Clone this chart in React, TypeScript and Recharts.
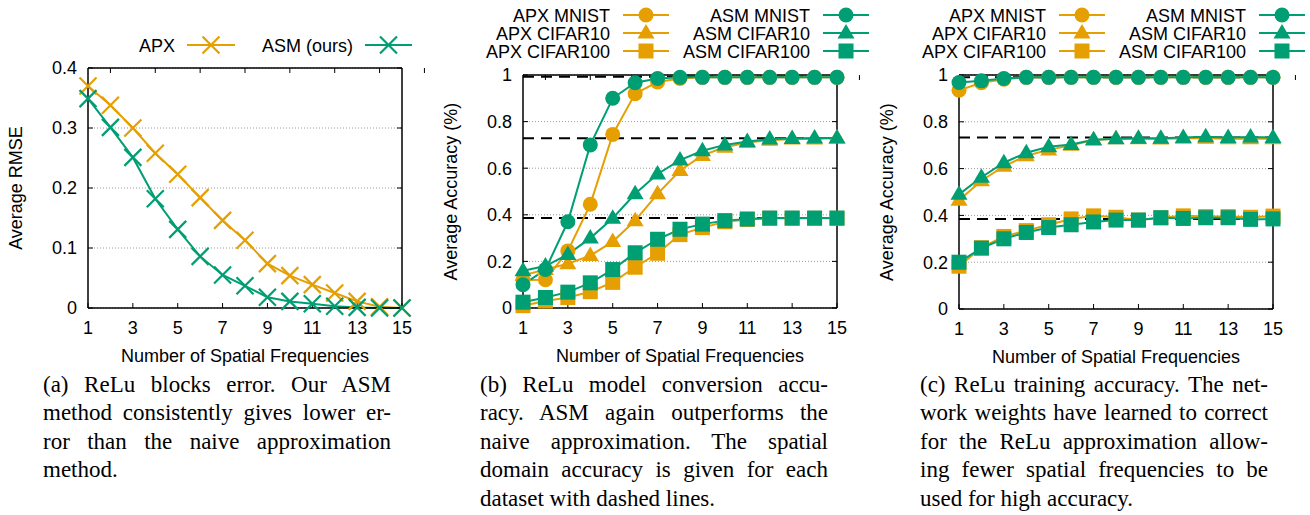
import React from "react";
import {
  CartesianGrid,
  Legend,
  Line,
  LineChart,
  ReferenceLine,
  XAxis,
  YAxis,
} from "recharts";

const ORANGE = "#e69f00";
const GREEN = "#009e73";
const SANS = '"Liberation Sans", Arial, Helvetica, sans-serif';
const SERIF = '"Liberation Serif", "Times New Roman", serif';

// x categories: number of spatial frequencies
const freqs = [1, 2, 3, 4, 5, 6, 7, 8, 9, 10, 11, 12, 13, 14, 15];
const freqTicks = [1, 3, 5, 7, 9, 11, 13, 15];

// (a) ReLu block error
const rmseTicks = [0, 0.1, 0.2, 0.3, 0.4];
const rmseApx = [0.37, 0.338, 0.3, 0.258, 0.223, 0.184, 0.146, 0.113, 0.074, 0.054, 0.039, 0.025, 0.011, 0.002, 0];
const rmseAsm = [0.349, 0.301, 0.251, 0.182, 0.131, 0.086, 0.055, 0.037, 0.018, 0.011, 0.007, 0.003, 0.001, 0, 0];

// (b) model conversion accuracy
const accTicks = [0, 0.2, 0.4, 0.6, 0.8, 1];
const convApxMnist = [0.12, 0.121, 0.245, 0.445, 0.745, 0.92, 0.97, 0.985, 0.99, 0.99, 0.99, 0.99, 0.99, 0.99, 0.99];
const convApxC10 = [0.14, 0.165, 0.19, 0.225, 0.285, 0.375, 0.49, 0.59, 0.655, 0.69, 0.71, 0.72, 0.725, 0.725, 0.73];
const convApxC100 = [0.01, 0.03, 0.045, 0.07, 0.11, 0.175, 0.235, 0.315, 0.345, 0.37, 0.38, 0.385, 0.385, 0.385, 0.385];
const convAsmMnist = [0.1, 0.165, 0.37, 0.7, 0.9, 0.967, 0.985, 0.99, 0.99, 0.99, 0.99, 0.99, 0.99, 0.99, 0.99];
const convAsmC10 = [0.16, 0.18, 0.23, 0.3, 0.385, 0.49, 0.575, 0.635, 0.675, 0.7, 0.715, 0.725, 0.728, 0.73, 0.73];
const convAsmC100 = [0.025, 0.045, 0.068, 0.108, 0.165, 0.237, 0.295, 0.338, 0.36, 0.375, 0.382, 0.386, 0.386, 0.386, 0.386];
const convSpatial = [0.992, 0.729, 0.386];

// (c) training accuracy
const trainApxMnist = [0.935, 0.967, 0.982, 0.99, 0.99, 0.99, 0.99, 0.99, 0.99, 0.99, 0.99, 0.99, 0.99, 0.99, 0.99];
const trainApxC10 = [0.465, 0.548, 0.61, 0.655, 0.68, 0.7, 0.722, 0.728, 0.728, 0.726, 0.73, 0.73, 0.728, 0.728, 0.728];
const trainApxC100 = [0.183, 0.262, 0.31, 0.335, 0.36, 0.385, 0.398, 0.392, 0.38, 0.39, 0.398, 0.395, 0.395, 0.392, 0.397];
const trainAsmMnist = [0.968, 0.975, 0.985, 0.99, 0.99, 0.99, 0.99, 0.99, 0.99, 0.99, 0.99, 0.99, 0.99, 0.99, 0.99];
const trainAsmC10 = [0.49, 0.563, 0.625, 0.668, 0.693, 0.703, 0.723, 0.728, 0.73, 0.73, 0.733, 0.736, 0.733, 0.735, 0.733];
const trainAsmC100 = [0.2, 0.26, 0.3, 0.327, 0.348, 0.36, 0.372, 0.38, 0.38, 0.39, 0.387, 0.39, 0.39, 0.383, 0.385];
const trainSpatial = [0.99, 0.733, 0.385];

const captionA = [
  "(a) ReLu blocks error.  Our ASM",
  "method consistently gives lower er-",
  "ror than the naive approximation",
  "method.",
];
const captionB = [
  "(b) ReLu model conversion accu-",
  "racy.  ASM again outperforms the",
  "naive approximation.  The spatial",
  "domain accuracy is given for each",
  "dataset with dashed lines.",
];
const captionC = [
  "(c) ReLu training accuracy. The net-",
  "work weights have learned to correct",
  "for the ReLu approximation allow-",
  "ing fewer spatial frequencies to be",
  "used for high accuracy.",
];

type Shape = "cross" | "circle" | "triangle" | "square";

type SeriesDef = {
  key: string;
  name: string;
  color: string;
  shape: Shape;
  values: number[];
};

type KeySlot = {
  key: string;
  textRight: number;
  sampleStart: number;
  sampleEnd: number;
  y: number;
};

function Marker({ shape, cx, cy, color }: { shape: Shape; cx: number; cy: number; color: string }) {
  if (shape === "cross") {
    const s = 8.5;
    return (
      <path
        d={`M${cx - s},${cy - s}L${cx + s},${cy + s}M${cx - s},${cy + s}L${cx + s},${cy - s}`}
        stroke={color}
        strokeWidth={2.2}
        fill="none"
      />
    );
  }
  if (shape === "circle") {
    return <circle cx={cx} cy={cy} r={7.5} fill={color} />;
  }
  if (shape === "triangle") {
    return (
      <path
        d={`M${cx},${cy - 9}L${cx + 8.5},${cy + 5.5}L${cx - 8.5},${cy + 5.5}Z`}
        fill={color}
      />
    );
  }
  return <rect x={cx - 7.5} y={cy - 7.5} width={15} height={15} fill={color} />;
}

const EmptyTick = () => <g />;

function XTitle({ viewBox }: any) {
  if (!viewBox) return null;
  return (
    <text
      x={viewBox.x + viewBox.width / 2}
      y={viewBox.y + 53.5}
      textAnchor="middle"
      fontSize={18}
      fontFamily={SANS}
      fill="#000"
    >
      Number of Spatial Frequencies
    </text>
  );
}

function YTitle({ viewBox, text }: any) {
  if (!viewBox) return null;
  const cx = viewBox.x + 22;
  const cy = viewBox.y + viewBox.height / 2;
  return (
    <text
      x={cx}
      y={cy}
      transform={`rotate(-90 ${cx} ${cy})`}
      textAnchor="middle"
      fontSize={18}
      fontFamily={SANS}
      fill="#000"
    >
      {text}
    </text>
  );
}

function KeyBox({ series, slots }: { series: SeriesDef[]; slots: KeySlot[] }) {
  return (
    <svg width={435} height={62} style={{ display: "block", overflow: "visible" }}>
      {slots.map((slot) => {
        const s = series.find((item) => item.key === slot.key);
        if (!s) return null;
        const mid = (slot.sampleStart + slot.sampleEnd) / 2;
        return (
          <g key={slot.key}>
            <text
              x={slot.textRight}
              y={slot.y + 6.5}
              textAnchor="end"
              fontSize={18}
              fontFamily={SANS}
              fill="#000"
            >
              {s.name}
            </text>
            <line
              x1={slot.sampleStart}
              x2={slot.sampleEnd}
              y1={slot.y}
              y2={slot.y}
              stroke={s.color}
              strokeWidth={2}
            />
            <Marker shape={s.shape} cx={mid} cy={slot.y} color={s.color} />
          </g>
        );
      })}
    </svg>
  );
}

type PanelProps = {
  left: number;
  series: SeriesDef[];
  slots: KeySlot[];
  yTicks: number[];
  yMax: number;
  yLabel: string;
  plotTop: number;
  plotBottom: number;
  spatial?: number[];
};

const CHART_W = 435;
const CHART_H = 370;

function Panel({ left, series, slots, yTicks, yMax, yLabel, plotTop, plotBottom, spatial }: PanelProps) {
  const rows = freqs.map((f, i) => {
    const row: Record<string, number> = { f };
    series.forEach((s) => {
      row[s.key] = s.values[i];
    });
    return row;
  });

  const tickStyle = { fill: "#000", fontSize: 18, fontFamily: SANS };
  const frame = { stroke: "#000", strokeWidth: 1.5 };
  const tickMark = { stroke: "#000", strokeWidth: 1 };

  return (
    <div style={{ position: "absolute", left, top: 0, width: CHART_W, height: CHART_H }}>
      <LineChart
        width={CHART_W}
        height={CHART_H}
        data={rows}
        margin={{ top: 0, right: 0, bottom: 0, left: 0 }}
      >
        <CartesianGrid
          vertical={false}
          stroke="#9a9a9a"
          strokeDasharray="1 2"
          strokeWidth={1}
        />
        <XAxis
          dataKey="f"
          type="number"
          domain={[1, 15]}
          ticks={freqTicks}
          height={CHART_H - plotBottom}
          tick={tickStyle}
          tickSize={-5}
          tickMargin={18}
          tickLine={tickMark}
          axisLine={frame}
          interval={0}
          label={<XTitle />}
        />
        <XAxis
          xAxisId="top"
          orientation="top"
          type="number"
          domain={[1, 15]}
          allowDataOverflow
          ticks={freqTicks}
          height={plotTop}
          tick={EmptyTick}
          tickSize={-5}
          tickLine={tickMark}
          axisLine={frame}
          interval={0}
        />
        <YAxis
          type="number"
          domain={[0, yMax]}
          ticks={yTicks}
          width={88}
          tick={tickStyle}
          tickSize={-5}
          tickMargin={16}
          tickLine={tickMark}
          axisLine={frame}
          interval={0}
          tickFormatter={(v: number) => String(v)}
          label={<YTitle text={yLabel} />}
        />
        <YAxis
          yAxisId="right"
          orientation="right"
          type="number"
          domain={[0, yMax]}
          allowDataOverflow
          ticks={yTicks}
          width={CHART_W - 88 - 314}
          tick={EmptyTick}
          tickSize={-5}
          tickLine={tickMark}
          axisLine={frame}
          interval={0}
        />
        {(spatial || []).map((v, i) => (
          <ReferenceLine
            key={`spatial-${i}`}
            y={v}
            stroke="#000"
            strokeWidth={2}
            strokeDasharray="11 7"
          />
        ))}
        <Legend
          layout="horizontal"
          verticalAlign="middle"
          align="center"
          wrapperStyle={{ position: "absolute", left: 0, top: 0, width: CHART_W, height: 62 }}
          content={() => <KeyBox series={series} slots={slots} />}
        />
        {series.map((s) => (
          <Line
            key={s.key}
            name={s.name}
            dataKey={s.key}
            type="linear"
            stroke={s.color}
            strokeWidth={2}
            isAnimationActive={false}
            activeDot={false}
            dot={(p: any) => {
              if (p.cx == null || p.cy == null) return <g key={`${s.key}-${p.index}`} />;
              return (
                <Marker
                  key={`${s.key}-${p.index}`}
                  shape={s.shape}
                  cx={p.cx}
                  cy={p.cy}
                  color={s.color}
                />
              );
            }}
          />
        ))}
      </LineChart>
    </div>
  );
}

function Caption({ left, lines }: { left: number; lines: string[] }) {
  return (
    <div
      style={{
        position: "absolute",
        left,
        top: 371,
        width: 348,
        fontFamily: SERIF,
        fontSize: 23,
        lineHeight: "28.4px",
        color: "#000",
      }}
    >
      {lines.map((line, i) => {
        const last = i === lines.length - 1;
        return (
          <div
            key={i}
            style={{
              textAlign: last ? "left" : "justify",
              textAlignLast: last ? "left" : "justify",
              whiteSpace: "normal",
            }}
          >
            {line}
          </div>
        );
      })}
    </div>
  );
}

const rmseSeries: SeriesDef[] = [
  { key: "apx", name: "APX", color: ORANGE, shape: "cross", values: rmseApx },
  { key: "asm", name: "ASM (ours)", color: GREEN, shape: "cross", values: rmseAsm },
];
const rmseSlots: KeySlot[] = [
  { key: "apx", textRight: 175, sampleStart: 187, sampleEnd: 235, y: 45 },
  { key: "asm", textRight: 353, sampleStart: 365, sampleEnd: 412, y: 45 },
];

const convSeries: SeriesDef[] = [
  { key: "apxMnist", name: "APX MNIST", color: ORANGE, shape: "circle", values: convApxMnist },
  { key: "apxC10", name: "APX CIFAR10", color: ORANGE, shape: "triangle", values: convApxC10 },
  { key: "apxC100", name: "APX CIFAR100", color: ORANGE, shape: "square", values: convApxC100 },
  { key: "asmMnist", name: "ASM MNIST", color: GREEN, shape: "circle", values: convAsmMnist },
  { key: "asmC10", name: "ASM CIFAR10", color: GREEN, shape: "triangle", values: convAsmC10 },
  { key: "asmC100", name: "ASM CIFAR100", color: GREEN, shape: "square", values: convAsmC100 },
];

const trainSeries: SeriesDef[] = [
  { key: "apxMnist", name: "APX MNIST", color: ORANGE, shape: "circle", values: trainApxMnist },
  { key: "apxC10", name: "APX CIFAR10", color: ORANGE, shape: "triangle", values: trainApxC10 },
  { key: "apxC100", name: "APX CIFAR100", color: ORANGE, shape: "square", values: trainApxC100 },
  { key: "asmMnist", name: "ASM MNIST", color: GREEN, shape: "circle", values: trainAsmMnist },
  { key: "asmC10", name: "ASM CIFAR10", color: GREEN, shape: "triangle", values: trainAsmC10 },
  { key: "asmC100", name: "ASM CIFAR100", color: GREEN, shape: "square", values: trainAsmC100 },
];

const accSlots: KeySlot[] = [
  { key: "apxMnist", textRight: 175, sampleStart: 188, sampleEnd: 234, y: 15 },
  { key: "apxC10", textRight: 175, sampleStart: 188, sampleEnd: 234, y: 33 },
  { key: "apxC100", textRight: 175, sampleStart: 188, sampleEnd: 234, y: 51 },
  { key: "asmMnist", textRight: 375, sampleStart: 388, sampleEnd: 434, y: 15 },
  { key: "asmC10", textRight: 375, sampleStart: 388, sampleEnd: 434, y: 33 },
  { key: "asmC100", textRight: 375, sampleStart: 388, sampleEnd: 434, y: 51 },
];

export default function App() {
  return (
    <div
      style={{
        position: "absolute",
        left: 0,
        top: 0,
        width: 1310,
        height: 515,
        background: "#fff",
        overflow: "hidden",
      }}
    >
      <Panel
        left={0}
        series={rmseSeries}
        slots={rmseSlots}
        yTicks={rmseTicks}
        yMax={0.4}
        yLabel="Average RMSE"
        plotTop={68}
        plotBottom={308}
      />
      <Panel
        left={435}
        series={convSeries}
        slots={accSlots}
        yTicks={accTicks}
        yMax={1}
        yLabel="Average Accuracy (%)"
        plotTop={75}
        plotBottom={308}
        spatial={convSpatial}
      />
      <Panel
        left={871}
        series={trainSeries}
        slots={accSlots}
        yTicks={accTicks}
        yMax={1}
        yLabel="Average Accuracy (%)"
        plotTop={75}
        plotBottom={309}
        spatial={trainSpatial}
      />
      <Caption left={43} lines={captionA} />
      <Caption left={480} lines={captionB} />
      <Caption left={920} lines={captionC} />
    </div>
  );
}
